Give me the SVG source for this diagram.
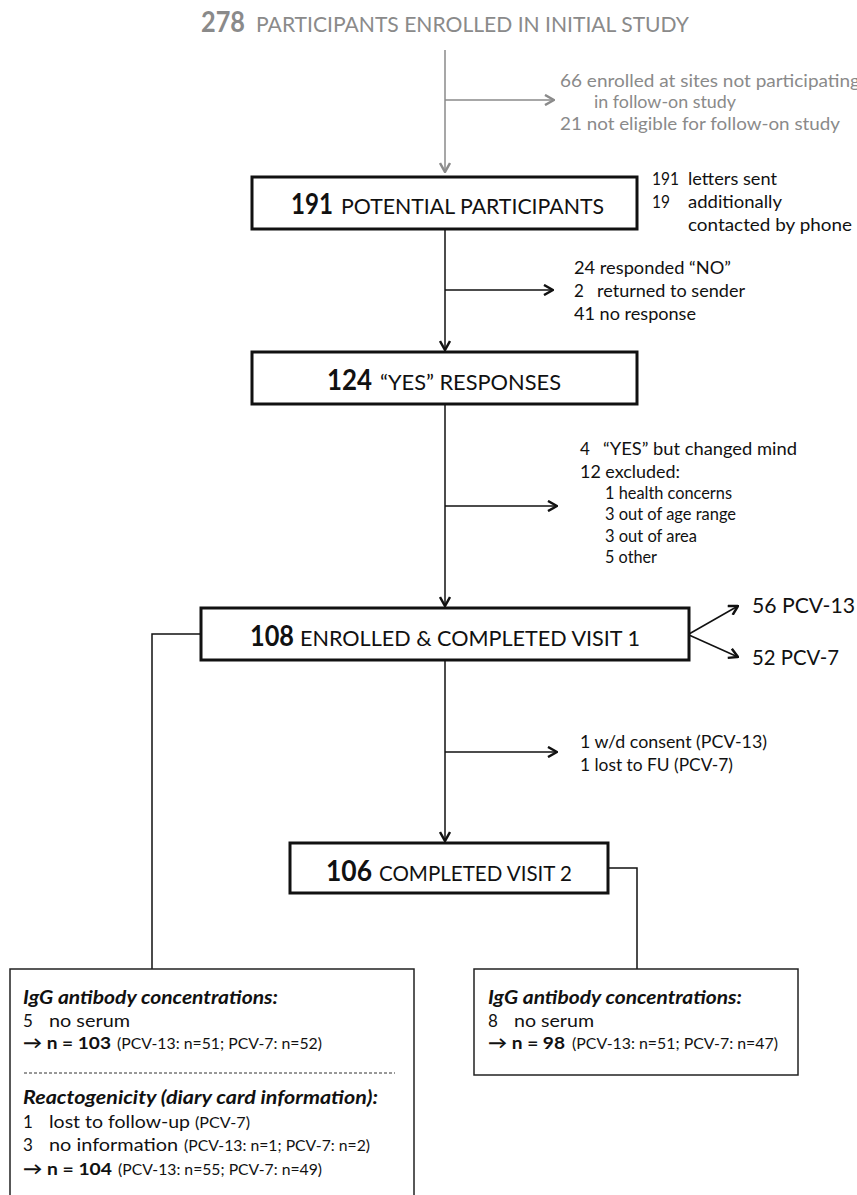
<svg xmlns="http://www.w3.org/2000/svg" width="857" height="1195" viewBox="0 0 857 1195">
<defs>
<style>
.t{font-family:Lato,"Open Sans","Liberation Sans",sans-serif;fill:#111}
.g{fill:#8a8a8a}
.s{font-size:17px}
.m{font-size:22px}
.n{font-size:28px;font-weight:bold}
.bi{font-weight:bold;font-style:italic;font-size:18px}
.sm{font-size:15.5px}
.box{fill:#fff;stroke:#111;stroke-width:3}
.box2{fill:#fff;stroke:#222;stroke-width:1.5}
.ln{fill:none;stroke:#111;stroke-width:1.5}
.lg{fill:none;stroke:#8a8a8a;stroke-width:1.5}
</style>
<marker id="ab" viewBox="0 0 12 12" refX="11" refY="6" markerWidth="12" markerHeight="12" markerUnits="userSpaceOnUse" orient="auto">
<path d="M2,1 L11,6 L2,11" fill="none" stroke="#111" stroke-width="2.5"/>
</marker>
<marker id="ag" viewBox="0 0 12 12" refX="11" refY="6" markerWidth="12" markerHeight="12" markerUnits="userSpaceOnUse" orient="auto">
<path d="M2,1 L11,6 L2,11" fill="none" stroke="#8a8a8a" stroke-width="2.5"/>
</marker>
</defs>
<rect width="857" height="1195" fill="#fff"/>

<g id="connectors">
<path class="lg" d="M445,50 V172" marker-end="url(#ag)"/>
<path class="lg" d="M445,100 H554" marker-end="url(#ag)"/>
<path class="ln" d="M445,229 V350" marker-end="url(#ab)"/>
<path class="ln" d="M445,290 H553" marker-end="url(#ab)"/>
<path class="ln" d="M445,404 V606" marker-end="url(#ab)"/>
<path class="ln" d="M445,506 H557" marker-end="url(#ab)"/>
<path class="ln" d="M689,634 L738,606" marker-end="url(#ab)"/>
<path class="ln" d="M689,635 L738,657" marker-end="url(#ab)"/>
<path class="ln" d="M445,660 V841" marker-end="url(#ab)"/>
<path class="ln" d="M445,752 H557" marker-end="url(#ab)"/>
<path class="ln" d="M201,634 H152 V969" stroke-width="1.2"/>
<path class="ln" d="M608,868 H637 V969" stroke-width="1.2"/>
</g>

<g id="title">
<text class="t g n" x="201" y="32" textLength="44" lengthAdjust="spacingAndGlyphs">278</text>
<text class="t g m" x="256" y="32" font-size="23" textLength="433" lengthAdjust="spacingAndGlyphs">PARTICIPANTS ENROLLED IN INITIAL STUDY</text>
</g>

<g id="excl1">
<text class="t g s" x="560" y="87" textLength="300" lengthAdjust="spacingAndGlyphs">66 enrolled at sites not participating</text>
<text class="t g s" x="594" y="108" textLength="142" lengthAdjust="spacingAndGlyphs">in follow-on study</text>
<text class="t g s" x="560" y="130" textLength="280" lengthAdjust="spacingAndGlyphs">21 not eligible for follow-on study</text>
</g>

<g id="n191">
<rect class="box" x="252" y="177" width="385" height="52"/>
<text class="t n" x="291" y="214" textLength="42" lengthAdjust="spacingAndGlyphs">191</text>
<text class="t m" x="341" y="214" textLength="263" lengthAdjust="spacingAndGlyphs">POTENTIAL PARTICIPANTS</text>
</g>

<g id="contact">
<text class="t s" x="652" y="185" textLength="27" lengthAdjust="spacingAndGlyphs">191</text>
<text class="t s" x="688" y="185" textLength="89" lengthAdjust="spacingAndGlyphs">letters sent</text>
<text class="t s" x="652" y="208" textLength="18" lengthAdjust="spacingAndGlyphs">19</text>
<text class="t s" x="688" y="208" textLength="94" lengthAdjust="spacingAndGlyphs">additionally</text>
<text class="t s" x="688" y="231" textLength="164" lengthAdjust="spacingAndGlyphs">contacted by phone</text>
</g>

<g id="excl2">
<text class="t s" x="574" y="274" textLength="157" lengthAdjust="spacingAndGlyphs">24 responded “NO”</text>
<text class="t s" x="574" y="297">2</text>
<text class="t s" x="597" y="297" textLength="148" lengthAdjust="spacingAndGlyphs">returned to sender</text>
<text class="t s" x="574" y="320" textLength="122" lengthAdjust="spacingAndGlyphs">41 no response</text>
</g>

<g id="n124">
<rect class="box" x="252" y="352" width="385" height="52"/>
<text class="t n" x="327" y="390" textLength="45" lengthAdjust="spacingAndGlyphs">124</text>
<text class="t m" x="380" y="390" textLength="181" lengthAdjust="spacingAndGlyphs">“YES” RESPONSES</text>
</g>

<g id="excl3">
<text class="t s" x="580" y="455">4</text>
<text class="t s" x="603" y="455" textLength="194" lengthAdjust="spacingAndGlyphs">“YES” but changed mind</text>
<text class="t s" x="580" y="478" textLength="100" lengthAdjust="spacingAndGlyphs">12 excluded:</text>
<text class="t s" x="605" y="499" textLength="127" lengthAdjust="spacingAndGlyphs">1 health concerns</text>
<text class="t s" x="605" y="520" textLength="131" lengthAdjust="spacingAndGlyphs">3 out of age range</text>
<text class="t s" x="605" y="542" textLength="92" lengthAdjust="spacingAndGlyphs">3 out of area</text>
<text class="t s" x="605" y="563" textLength="52" lengthAdjust="spacingAndGlyphs">5 other</text>
</g>

<g id="n108">
<rect class="box" x="201" y="608" width="488" height="52"/>
<text class="t n" x="250" y="646" textLength="44" lengthAdjust="spacingAndGlyphs">108</text>
<text class="t m" x="300" y="646" textLength="340" lengthAdjust="spacingAndGlyphs">ENROLLED &amp; COMPLETED VISIT 1</text>
</g>

<g id="arms">
<text class="t m" x="752" y="613" textLength="103" lengthAdjust="spacingAndGlyphs">56 PCV-13</text>
<text class="t m" x="752" y="665" textLength="87" lengthAdjust="spacingAndGlyphs">52 PCV-7</text>
</g>

<g id="excl4">
<text class="t s" x="580" y="748" textLength="187" lengthAdjust="spacingAndGlyphs">1 w/d consent (PCV-13)</text>
<text class="t s" x="580" y="771" textLength="153" lengthAdjust="spacingAndGlyphs">1 lost to FU (PCV-7)</text>
</g>

<g id="n106">
<rect class="box" x="290" y="843" width="318" height="50"/>
<text class="t n" x="326" y="881" textLength="46" lengthAdjust="spacingAndGlyphs">106</text>
<text class="t m" x="379" y="881" textLength="193" lengthAdjust="spacingAndGlyphs">COMPLETED VISIT 2</text>
</g>

<g id="visit1box">
<rect class="box2" x="10" y="969" width="404" height="240"/>
<text class="t bi" x="23" y="1004" textLength="255" lengthAdjust="spacingAndGlyphs">IgG antibody concentrations:</text>
<text class="t s" x="23" y="1027">5</text>
<text class="t s" x="49" y="1027" textLength="81" lengthAdjust="spacingAndGlyphs">no serum</text>
<text class="t s" x="23" y="1049" font-weight="bold" textLength="88" lengthAdjust="spacingAndGlyphs">→ n = 103</text>
<text class="t sm" x="117" y="1049" textLength="205" lengthAdjust="spacingAndGlyphs">(PCV-13: n=51; PCV-7: n=52)</text>
<path d="M24,1073 H395" stroke="#333" stroke-width="1" stroke-dasharray="3,2"/>
<text class="t bi" x="23" y="1104" textLength="355" lengthAdjust="spacingAndGlyphs">Reactogenicity (diary card information):</text>
<text class="t s" x="23" y="1128">1</text>
<text class="t s" x="49" y="1128" textLength="141" lengthAdjust="spacingAndGlyphs">lost to follow-up</text>
<text class="t sm" x="195" y="1128" textLength="55" lengthAdjust="spacingAndGlyphs">(PCV-7)</text>
<text class="t s" x="23" y="1151">3</text>
<text class="t s" x="49" y="1151" textLength="129" lengthAdjust="spacingAndGlyphs">no information</text>
<text class="t sm" x="184" y="1151" textLength="186" lengthAdjust="spacingAndGlyphs">(PCV-13: n=1; PCV-7: n=2)</text>
<text class="t s" x="23" y="1175" font-weight="bold" textLength="89" lengthAdjust="spacingAndGlyphs">→ n = 104</text>
<text class="t sm" x="118" y="1175" textLength="204" lengthAdjust="spacingAndGlyphs">(PCV-13: n=55; PCV-7: n=49)</text>
</g>

<g id="visit2box">
<rect class="box2" x="474" y="969" width="324" height="106"/>
<text class="t bi" x="488" y="1004" textLength="254" lengthAdjust="spacingAndGlyphs">IgG antibody concentrations:</text>
<text class="t s" x="488" y="1027">8</text>
<text class="t s" x="514" y="1027" textLength="80" lengthAdjust="spacingAndGlyphs">no serum</text>
<text class="t s" x="488" y="1049" font-weight="bold" textLength="77" lengthAdjust="spacingAndGlyphs">→ n = 98</text>
<text class="t sm" x="572" y="1049" textLength="206" lengthAdjust="spacingAndGlyphs">(PCV-13: n=51; PCV-7: n=47)</text>
</g>
</svg>
